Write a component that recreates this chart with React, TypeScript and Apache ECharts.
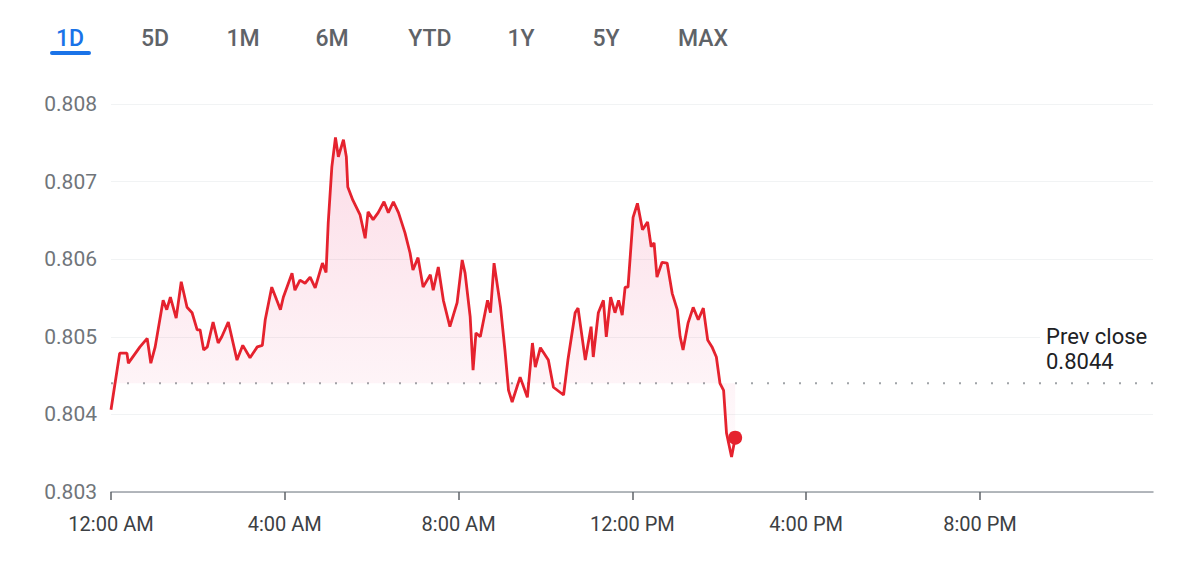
import React, { useEffect, useRef } from "react";
import * as echarts from "echarts";

// minutes since midnight
const minutes = [
  0, 12, 22, 24, 40, 50, 55, 61, 72, 77, 82, 90, 97, 105, 112, 119, 123, 128, 133, 141,
  148, 153, 162, 174, 182, 192, 202, 209, 213, 222, 229, 234, 238, 250, 254, 261, 268, 275, 282, 292,
  297, 300, 305, 310, 314, 321, 325, 327, 334, 344, 351, 355, 362, 369, 377, 383, 390, 397, 406, 413,
  417, 424, 431, 441, 445, 452, 459, 468, 478, 485, 489, 496, 500, 504, 510, 520, 524, 529, 538, 544,
  549, 554, 565, 575, 582, 586, 593, 604, 611, 625, 631, 641, 645, 655, 663, 666, 673, 680, 684, 690,
  696, 701, 706, 710, 714, 721, 727, 734, 741, 746, 750, 754, 761, 768, 775, 782, 786, 790, 797, 804,
  811, 818, 824, 830, 836, 841, 846, 850, 857, 862,
];
const prices = [
  0.80406, 0.80479, 0.80479, 0.80466, 0.80487, 0.80498, 0.80466, 0.80487, 0.80547, 0.80535,
  0.80551, 0.80524, 0.80571, 0.80538, 0.80531, 0.80509, 0.80509, 0.80483, 0.80487, 0.80519,
  0.80492, 0.805, 0.80519, 0.8047, 0.80489, 0.80473, 0.80487, 0.80489, 0.80522, 0.80564,
  0.80547, 0.80535, 0.80551, 0.80582, 0.8056, 0.80573, 0.80569, 0.80577, 0.80563, 0.80595,
  0.80583, 0.80647, 0.80719, 0.80757, 0.80732, 0.80754, 0.80732, 0.80693, 0.80676, 0.80657,
  0.80627, 0.80661, 0.80651, 0.8066, 0.80674, 0.8066, 0.80674, 0.8066, 0.80634, 0.80608,
  0.80586, 0.80602, 0.80564, 0.8058, 0.8056, 0.8059, 0.80547, 0.80513, 0.80544, 0.80599,
  0.80582, 0.80526, 0.80457, 0.80505, 0.805, 0.80547, 0.80531, 0.80595, 0.80538, 0.80483,
  0.80431, 0.80416, 0.80448, 0.80422, 0.80492, 0.80461, 0.80486, 0.8047, 0.80435, 0.80425,
  0.8047, 0.80531, 0.80537, 0.8047, 0.80513, 0.80474, 0.80531, 0.80547, 0.805, 0.80551,
  0.80531, 0.80547, 0.80528, 0.80564, 0.80564, 0.80654, 0.80672, 0.80638, 0.80648, 0.80616,
  0.80621, 0.80577, 0.80596, 0.80595, 0.80556, 0.80535, 0.805, 0.80483, 0.80518, 0.80538,
  0.80522, 0.80537, 0.80496, 0.80487, 0.80474, 0.8044, 0.80431, 0.80376, 0.80345, 0.8037,
];
const prevClose = 0.8044;
const dayStart = 0;
const dayEnd = 1439;
const tickMinutes = [0, 240, 480, 720, 960, 1200];
const tabs = ["1D", "5D", "1M", "6M", "YTD", "1Y", "5Y", "MAX"];
const tabCenters = [70, 155, 243, 332, 430, 521, 606, 703];

function fmtTime(m: number): string {
  const h = Math.floor(m / 60);
  const mm = m % 60;
  const ampm = h < 12 ? "AM" : "PM";
  const h12 = h % 12 === 0 ? 12 : h % 12;
  return `${h12}:${mm < 10 ? "0" + mm : mm} ${ampm}`;
}

export default function App() {
  const ref = useRef<HTMLDivElement>(null);
  useEffect(() => {
    if (!ref.current) return;
    const chart = echarts.init(ref.current, null, { renderer: "svg" });
    const data = minutes.map((m, i) => [m, prices[i]]);
    const last = data[data.length - 1];
    const red = "#e5222e";
    chart.setOption({
      animation: false,
      backgroundColor: "#ffffff",
      grid: { left: 111, right: 47, top: 104, bottom: 86 },
      xAxis: {
        type: "value",
        min: dayStart,
        max: dayEnd,
        interval: 240,
        axisLine: { show: true, lineStyle: { color: "#9aa0a6", width: 1.5 } },
        axisTick: {
          show: true,
          length: 8,
          customValues: tickMinutes,
          lineStyle: { color: "#5f6368", width: 1.5 },
        },
        splitLine: { show: false },
        axisLabel: {
          customValues: tickMinutes,
          formatter: (v: number) => fmtTime(v),
          color: "#3c4043",
          fontFamily: "Roboto",
          fontSize: 20,
          margin: 22,
        },
      },
      yAxis: {
        type: "value",
        min: 0.803,
        max: 0.808,
        interval: 0.001,
        axisLine: { show: false },
        axisTick: { show: false },
        splitLine: { show: true, lineStyle: { color: "#f1f3f4", width: 1 } },
        axisLabel: {
          formatter: (v: number) => v.toFixed(3),
          color: "#70757a",
          fontFamily: "Roboto",
          fontSize: 21,
          margin: 14,
        },
      },
      series: [
        {
          type: "line",
          data: [
            [dayStart, prevClose],
            [dayEnd, prevClose],
          ],
          showSymbol: false,
          silent: true,
          lineStyle: { color: "#a0a4a8", type: [2, 14], width: 2 },
          z: 2,
        },
        {
          type: "line",
          data,
          showSymbol: false,
          lineStyle: { color: red, width: 2.8 },
          areaStyle: {
            origin: prevClose,
            color: new echarts.graphic.LinearGradient(0, 0, 0, 1, [
              { offset: 0, color: "rgba(236, 64, 122, 0.26)" },
              { offset: 1, color: "rgba(236, 64, 122, 0.03)" },
            ]),
          },
          z: 3,
        },
        {
          type: "scatter",
          data: [last],
          symbol: "circle",
          symbolSize: 14,
          itemStyle: { color: red, opacity: 1 },
          z: 4,
        },
      ],
      graphic: [
        ...tabs.map((t, i) => ({
          type: "text",
          x: tabCenters[i],
          y: 38,
          style: {
            text: t,
            fill: i === 0 ? "#1a73e8" : "#5f6368",
            font: '500 23px "Roboto"',
            textAlign: "center",
            textVerticalAlign: "middle",
          },
        })),
        {
          type: "rect",
          shape: { x: 50, y: 51, width: 41, height: 4, r: 2 },
          style: { fill: "#1a73e8" },
        },
        {
          type: "rect",
          shape: { x: 1040, y: 322, width: 120, height: 52 },
          style: { fill: "#ffffff" },
          z: 10,
        },
        {
          type: "text",
          x: 1046,
          y: 336,
          z: 11,
          style: {
            text: "Prev close",
            fill: "#202124",
            font: '22px "Roboto"',
            textVerticalAlign: "middle",
          },
        },
        {
          type: "text",
          x: 1046,
          y: 361,
          z: 11,
          style: {
            text: "0.8044",
            fill: "#202124",
            font: '22px "Roboto"',
            textVerticalAlign: "middle",
          },
        },
      ],
    });
    return () => chart.dispose();
  }, []);
  return (
    <div
      ref={ref}
      style={{ position: "fixed", left: 0, top: 0, width: 1200, height: 578, background: "#fff" }}
    />
  );
}
